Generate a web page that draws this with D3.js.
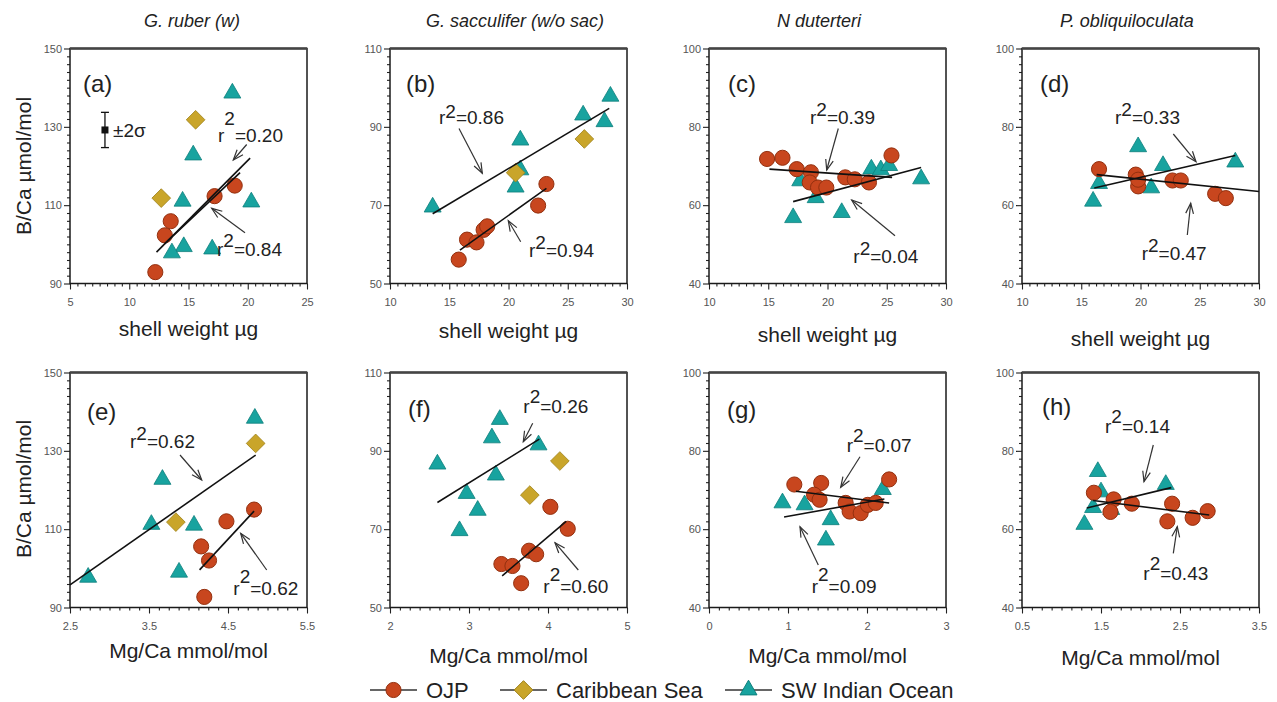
<!DOCTYPE html>
<html><head><meta charset="utf-8">
<script src="https://cdn.jsdelivr.net/npm/d3@7"></script>
<style>body{margin:0;background:#fff}</style>
</head><body><svg id="c" width="1277" height="702"></svg>
<script>
// ---------- data ----------
const speciesTitles = ["G. ruber (w)", "G. sacculifer (w/o sac)", "N duterteri", "P. obliquiloculata"];
const panelLabels = ["(a)","(b)","(c)","(d)","(e)","(f)","(g)","(h)"];
const seriesNames = ["OJP", "Caribbean Sea", "SW Indian Ocean"];
const xLabels = ["shell weight \u00B5g", "Mg/Ca mmol/mol"];
const yLabel = "B/Ca \u00B5mol/mol";

const xDomains = [[5,25],[10,30],[10,30],[10,30],[2.5,5.5],[2,5],[0,3],[0.5,3.5]];
const yDomains = [[90,150],[50,110],[40,100],[40,100],[90,150],[50,110],[40,100],[40,100]];
const xTickValues = [[5,10,15,20,25],[10,15,20,25,30],[10,15,20,25,30],[10,15,20,25,30],
                     [2.5,3.5,4.5,5.5],[2,3,4,5],[0,1,2,3],[0.5,1.5,2.5,3.5]];
const yTickValues = [[90,110,130,150],[50,70,90,110],[40,60,80,100],[40,60,80,100],
                     [90,110,130,150],[50,70,90,110],[40,60,80,100],[40,60,80,100]];

// OJP (circles)
const ojpA = [[12.2,92.9],[13.0,102.3],[13.5,105.9],[17.2,112.3],[18.9,115.0]];
const ojpB = [[15.8,56.1],[16.5,61.2],[17.3,60.5],[17.9,63.7],[18.2,64.6],[22.5,69.9],[23.2,75.4]];
const ojpC = [[14.9,71.8],[16.2,72.1],[17.4,69.2],[18.6,68.4],[18.5,65.8],[19.2,64.5],[19.9,64.5],[21.5,67.1],[22.3,66.6],[23.5,65.8],[25.4,72.7]];
const ojpD = [[16.5,69.2],[19.6,67.8],[19.8,64.8],[19.8,66.5],[22.7,66.3],[23.4,66.3],[26.3,62.9],[27.2,61.8]];
const ojpE = [[4.20,92.7],[4.16,105.6],[4.26,102.0],[4.48,112.0],[4.83,115.0]];
const ojpF = [[3.41,61.1],[3.55,60.6],[3.66,56.2],[3.76,64.5],[3.85,63.6],[4.03,75.7],[4.25,70.1]];
const ojpG = [[1.08,71.4],[1.42,71.8],[1.33,68.8],[1.40,67.5],[1.73,66.7],[1.78,64.5],[1.92,64.1],[2.01,66.2],[2.11,66.7],[2.28,72.7]];
const ojpH = [[1.41,69.3],[1.66,67.6],[1.62,64.4],[1.89,66.5],[2.40,66.5],[2.34,62.0],[2.66,62.9],[2.85,64.6]];

// Caribbean Sea (diamonds)
const caribA = [[12.7,111.8],[15.6,131.8]];
const caribB = [[20.6,78.3],[26.4,86.9]];
const caribC = [];
const caribD = [];
const caribE = [[3.84,111.8],[4.85,131.9]];
const caribF = [[3.77,78.7],[4.15,87.4]];
const caribG = [];
const caribH = [];

// SW Indian Ocean (triangles)
const swA = [[18.7,138.6],[15.4,122.8],[14.5,111.0],[20.3,110.8],[14.6,99.4],[13.6,97.8],[17.0,98.8]];
const swB = [[13.6,69.5],[21.0,86.6],[20.6,74.6],[21.0,79.0],[26.3,93.0],[28.1,91.3],[28.6,97.8]];
const swC = [[17.1,56.8],[21.2,58.1],[27.9,66.7],[19.0,61.9],[17.7,66.2],[23.7,69.2],[24.5,69.0],[25.2,70.1]];
const swD = [[19.8,74.9],[21.9,70.1],[28.0,71.0],[16.5,65.5],[16.0,61.0],[20.9,64.4]];
const swE = [[4.84,138.3],[3.67,122.7],[3.53,111.2],[4.07,111.0],[3.88,99.0],[2.73,97.7]];
const swF = [[2.60,86.6],[3.39,98.0],[3.29,93.3],[3.88,91.5],[3.34,83.8],[2.97,79.1],[3.11,74.8],[2.88,69.6]];
const swG = [[0.93,66.7],[1.21,66.2],[1.54,62.4],[1.48,57.2],[2.20,70.1]];
const swH = [[1.46,74.7],[1.29,61.2],[2.32,71.4],[1.50,69.5],[1.40,65.5],[1.63,65.0]];

// regression lines [x1,y1,x2,y2] (SW Indian Ocean, OJP)
const fitSW  = [[12.3,98.0,20.2,122.0],[13.6,67.8,28.5,94.7],[17.1,60.9,27.9,69.6],[16.1,64.4,28.0,72.7],
                [2.5,95.8,4.85,128.9],[2.6,76.8,3.89,93.0],[0.95,63.1,2.22,67.7],[1.32,65.4,2.39,70.6]];
const fitOJP = [[13.0,100.2,19.35,118.3],[15.9,58.5,23.2,74.3],[15.1,69.2,25.45,67.1],[16.3,67.8,30,63.5],
                [4.14,99.6,4.83,114.6],[3.42,58.1,4.23,72.0],[1.1,69.7,2.28,66.7],[1.40,67.3,2.87,63.6]];
// r-squared values (first = upper annotation, second = lower annotation)
const r2Values = [["0.20","0.84"],["0.86","0.94"],["0.39","0.04"],["0.33","0.47"],
                  ["0.62","0.62"],["0.26","0.60"],["0.07","0.09"],["0.14","0.43"]];
// analytical error bar in panel (a): [x, y, 2sigma]
const errorBar = [7.95, 129.2, 4.5];

// ---------- layout (pixels) ----------
const colLeft = [70, 390, 709, 1022], rowTop = [48.5, 372.5], PW = 237, PH = 235;
const titleX = [192, 515, 819, 1127];
const xLabelBase = [336, 338, 342, 346, 658, 663, 663, 665];
const labelPos = [[13,43.5],[16,43.5],[19,43],[18,43],[17,47.5],[18,44],[18,45.8],[20,42.5]];
// annotation layout: text [x,y], arrow [x1,y1,x2,y2], superscript raise (relative to panel top-left)
const annLayout = [
  [[148,93,176.7,96,163.3,111.5,17],[147,207.5,175,184.2,141.7,159.8,9]],
  [[49,75.5,69,80,92.3,124.8,6],[139,208,130.7,193.2,118.3,172.2,8]],
  [[101,75,129.3,80,117.7,121.5,8],[144.3,214.8,186,187.2,142.7,151.5,8]],
  [[93,75,151.3,85.5,174,113.2,8],[119.7,211.5,165.3,186.5,168.7,154.8,8]],
  [[60,75.8,110,82.5,131.7,107.5,8],[163.3,222.5,196.7,197.5,170.7,160.8,12]],
  [[133.3,40.8,142.7,50.8,133.3,69.2,10],[153.3,220.8,188.3,197.5,165,170.2,12]],
  [[137.7,79.2,151,84.2,131.7,114.8,10],[102.7,220.8,109.3,192.5,91,154.2,12]],
  [[83,60.8,131.3,72.5,122,109.2,10],[121.3,207.5,151.3,180.8,155.3,154.2,10]]
];

const FONT = '"Liberation Sans", Arial, Helvetica, sans-serif';
const C_OJP = "#c8461e", S_OJP = "#93300f";
const C_CAR = "#c9a52a", S_CAR = "#9e8119";
const C_SW = "#18a39f", S_SW = "#0e7f7c";

const ojpAll = [ojpA,ojpB,ojpC,ojpD,ojpE,ojpF,ojpG,ojpH];
const caribAll = [caribA,caribB,caribC,caribD,caribE,caribF,caribG,caribH];
const swAll = [swA,swB,swC,swD,swE,swF,swG,swH];

const svg = d3.select("#c");
svg.append("rect").attr("width",1277).attr("height",702).attr("fill","#fff");

const diamondSq = {draw(ctx,size){const r=Math.sqrt(size/2);ctx.moveTo(0,-r);ctx.lineTo(r,0);ctx.lineTo(0,r);ctx.lineTo(-r,0);ctx.closePath();}};
const symCircle = d3.symbol().type(d3.symbolCircle).size(180);
const symDiamond = d3.symbol().type(diamondSq).size(175);
const symTri = d3.symbol().type(d3.symbolTriangle).size(125);

function arrow(g, x1,y1,x2,y2){
  g.append("line").attr("x1",x1).attr("y1",y1).attr("x2",x2).attr("y2",y2)
    .attr("stroke","#333").attr("stroke-width",1.2);
  const ang = Math.atan2(y2-y1,x2-x1), L=11, a=0.36;
  const p = d3.path();
  p.moveTo(x2 - L*Math.cos(ang-a), y2 - L*Math.sin(ang-a));
  p.lineTo(x2,y2);
  p.lineTo(x2 - L*Math.cos(ang+a), y2 - L*Math.sin(ang+a));
  g.append("path").attr("d",p.toString()).attr("fill","none").attr("stroke","#333").attr("stroke-width",1.2);
}

function minorTicks(ticks, n){
  const out=[];
  for(let i=0;i<ticks.length-1;i++){
    const step=(ticks[i+1]-ticks[i])/n;
    for(let k=1;k<n;k++) out.push(ticks[i]+k*step);
  }
  return out;
}

for(let i=0;i<8;i++){
  const row=Math.floor(i/4), col=i%4;
  const x0=colLeft[col], y0=rowTop[row];
  const xs=d3.scaleLinear().domain(xDomains[i]).range([x0,x0+PW]);
  const ys=d3.scaleLinear().domain(yDomains[i]).range([y0+PH,y0]);
  const g=svg.append("g");

  // axes
  const ax=g.append("g").attr("transform",`translate(0,${y0+PH})`)
    .call(d3.axisBottom(xs).tickValues(xTickValues[i]).tickSize(6).tickSizeOuter(0).tickPadding(9).tickFormat(d3.format("")));
  const axm=g.append("g").attr("transform",`translate(0,${y0+PH})`)
    .call(d3.axisBottom(xs).tickValues(minorTicks(xTickValues[i],8)).tickSize(3).tickSizeOuter(0).tickFormat(""));
  const ay=g.append("g").attr("transform",`translate(${x0},0)`)
    .call(d3.axisLeft(ys).tickValues(yTickValues[i]).tickSize(6).tickSizeOuter(0).tickPadding(2));
  const aym=g.append("g").attr("transform",`translate(${x0},0)`)
    .call(d3.axisLeft(ys).tickValues(minorTicks(yTickValues[i],10)).tickSize(3).tickSizeOuter(0).tickFormat(""));
  [ax,axm,ay,aym].forEach(a=>{
    a.select(".domain").remove();
    a.selectAll("line").attr("stroke","#222").attr("stroke-width",1.1);
    a.selectAll("text").attr("font-family",FONT).attr("font-size",11).attr("fill","#555");
  });

  // frame
  g.append("rect").attr("x",x0).attr("y",y0).attr("width",PW).attr("height",PH)
    .attr("fill","none").attr("stroke","#1a1a1a").attr("stroke-width",1.5);
  g.append("line").attr("x1",x0).attr("x2",x0+PW).attr("y1",y0).attr("y2",y0)
    .attr("stroke","#444").attr("stroke-width",2.6);

  // points
  g.selectAll(".sw").data(swAll[i]).join("path").attr("d",symTri)
    .attr("transform",d=>`translate(${xs(d[0])},${ys(d[1])})`)
    .attr("fill",C_SW).attr("stroke",S_SW).attr("stroke-width",0.8);
  g.selectAll(".car").data(caribAll[i]).join("path").attr("d",symDiamond)
    .attr("transform",d=>`translate(${xs(d[0])},${ys(d[1])})`)
    .attr("fill",C_CAR).attr("stroke",S_CAR).attr("stroke-width",0.8);
  g.selectAll(".ojp").data(ojpAll[i]).join("path").attr("d",symCircle)
    .attr("transform",d=>`translate(${xs(d[0])},${ys(d[1])})`)
    .attr("fill",C_OJP).attr("stroke",S_OJP).attr("stroke-width",1);

  // fits
  [fitSW[i], fitOJP[i]].forEach(f=>{
    g.append("line").attr("x1",xs(f[0])).attr("y1",ys(f[1])).attr("x2",xs(f[2])).attr("y2",ys(f[3]))
      .attr("stroke","#111").attr("stroke-width",1.6);
  });

  // annotations
  annLayout[i].forEach((a,k)=>{
    const t=g.append("text").attr("x",x0+a[0]).attr("y",y0+a[1]).attr("font-family",FONT).attr("font-size",19).attr("fill","#222");
    t.append("tspan").text("r");
    t.append("tspan").attr("dy",-a[6]).text("2");
    t.append("tspan").attr("dy",a[6]).text("=" + r2Values[i][k]);
    arrow(g, x0+a[2], y0+a[3], x0+a[4], y0+a[5]);
  });

  // panel letter
  g.append("text").attr("x",x0+labelPos[i][0]).attr("y",y0+labelPos[i][1])
    .attr("font-family",FONT).attr("font-size",24).attr("fill","#222").text(panelLabels[i]);

  // x label
  g.append("text").attr("x",x0+PW/2).attr("y",xLabelBase[i]).attr("text-anchor","middle")
    .attr("font-family",FONT).attr("font-size",21).attr("fill","#222").text(xLabels[row]);

  // error bar in (a)
  if(i===0){
    const ex=xs(errorBar[0]), ey=ys(errorBar[1]), e1=ys(errorBar[1]+errorBar[2]), e2=ys(errorBar[1]-errorBar[2]);
    g.append("line").attr("x1",ex).attr("x2",ex).attr("y1",e1).attr("y2",e2).attr("stroke","#111").attr("stroke-width",1.3);
    [e1,e2].forEach(yy=>g.append("line").attr("x1",ex-4).attr("x2",ex+4).attr("y1",yy).attr("y2",yy).attr("stroke","#111").attr("stroke-width",1.3));
    g.append("rect").attr("x",ex-3.5).attr("y",ey-3.5).attr("width",7).attr("height",7).attr("fill","#111");
    g.append("text").attr("x",ex+8).attr("y",ey+7).attr("font-family",FONT).attr("font-size",19).attr("fill","#222").text("\u00B12\u03C3");
  }
}

// titles
speciesTitles.forEach((t,c)=>{
  svg.append("text").attr("x",titleX[c]).attr("y",27).attr("text-anchor","middle")
    .attr("font-family",FONT).attr("font-style","italic").attr("font-size",18).attr("fill","#222").text(t);
});
// y labels
[166, 489].forEach(cy=>{
  svg.append("text").attr("transform",`translate(31,${cy}) rotate(-90)`).attr("text-anchor","middle")
    .attr("font-family",FONT).attr("font-size",21).attr("fill","#222").text(yLabel);
});

// legend
const legX = [370, 500, 725], legY = 690;
const legSyms = [[symCircle,C_OJP,S_OJP],[symDiamond,C_CAR,S_CAR],[symTri,C_SW,S_SW]];
seriesNames.forEach((n,k)=>{
  const lg=svg.append("g");
  lg.append("line").attr("x1",legX[k]).attr("x2",legX[k]+47).attr("y1",legY).attr("y2",legY).attr("stroke","#333").attr("stroke-width",1.5);
  lg.append("path").attr("d",legSyms[k][0]).attr("transform",`translate(${legX[k]+23.5},${legY})`)
    .attr("fill",legSyms[k][1]).attr("stroke",legSyms[k][2]).attr("stroke-width",1);
  lg.append("text").attr("x",legX[k]+56).attr("y",legY+8).attr("font-family",FONT).attr("font-size",22).attr("fill","#222").text(n);
});
</script>
</body></html>
